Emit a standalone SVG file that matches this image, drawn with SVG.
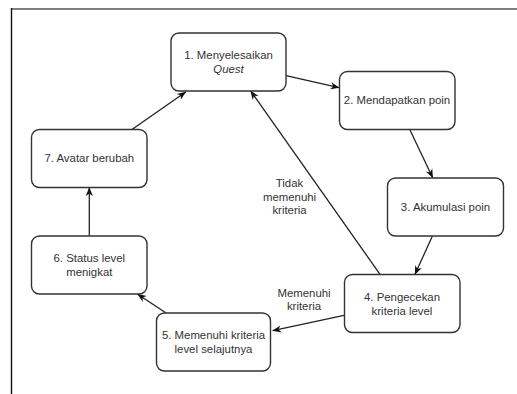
<svg xmlns="http://www.w3.org/2000/svg" width="517" height="394" viewBox="0 0 517 394">
<defs>
<style>
.box{fill:#ffffff;stroke:#333333;stroke-width:1.4}
.t{font-family:"Liberation Sans",Arial,Helvetica,sans-serif;font-size:11.4px;fill:#333333;text-anchor:middle}
.e{stroke:#222222;stroke-width:1.3;fill:none;marker-end:url(#arr)}
</style>
<marker id="arr" viewBox="0 0 10 10" refX="9.5" refY="5" markerWidth="9" markerHeight="9" markerUnits="userSpaceOnUse" orient="auto">
<path d="M0,1 L10,5 L0,9 L3,5 Z" fill="#111111"/>
</marker>
</defs>
<rect width="517" height="394" fill="#ffffff"/>
<line x1="11" y1="9" x2="517" y2="9" stroke="#808080" stroke-width="2"/>
<line x1="11.5" y1="8" x2="11.5" y2="394" stroke="#111111" stroke-width="1.4"/>
<g id="connectors">
<line class="e" x1="286" y1="75.7" x2="339" y2="87.7"/>
<line class="e" x1="410" y1="130" x2="432.7" y2="177.7"/>
<line class="e" x1="432.3" y1="236.3" x2="415" y2="274.3"/>
<line class="e" x1="380" y1="274.3" x2="250.7" y2="91"/>
<line class="e" x1="344" y1="315.3" x2="272.7" y2="330.7"/>
<line class="e" x1="165.7" y1="312.7" x2="137.7" y2="294.3"/>
<line class="e" x1="89.3" y1="235.7" x2="89.3" y2="187.6"/>
<line class="e" x1="132.3" y1="129.3" x2="185.7" y2="92"/>
<text class="t" x="289.5" y="187">Tidak</text>
<text class="t" x="289.5" y="200.5">memenuhi</text>
<text class="t" x="289.5" y="214">kriteria</text>
<text class="t" x="304" y="297">Memenuhi</text>
<text class="t" x="304" y="310">kriteria</text>
</g>
<g id="node1">
<rect class="box" x="171" y="33" width="115" height="58" rx="8"/>
<text class="t" x="228.5" y="59">1. Menyelesaikan</text>
<text class="t" x="228.5" y="73" font-style="italic">Quest</text>
</g>
<g id="node2">
<rect class="box" x="339.5" y="71.5" width="115.5" height="58" rx="8"/>
<text class="t" x="397" y="104">2. Mendapatkan poin</text>
</g>
<g id="node3">
<rect class="box" x="387.5" y="178" width="116" height="58" rx="8"/>
<text class="t" x="445.5" y="211">3. Akumulasi poin</text>
</g>
<g id="node4">
<rect class="box" x="344.5" y="274.5" width="115.5" height="58" rx="8"/>
<text class="t" x="402" y="301">4. Pengecekan</text>
<text class="t" x="402" y="314.5">kriteria level</text>
</g>
<g id="node5">
<rect class="box" x="156.5" y="313" width="114" height="58" rx="8"/>
<text class="t" x="213.5" y="339">5. Memenuhi kriteria</text>
<text class="t" x="213.5" y="353">level selajutnya</text>
</g>
<g id="node6">
<rect class="box" x="31.5" y="236" width="115.5" height="58" rx="8"/>
<text class="t" x="89.3" y="262">6. Status level</text>
<text class="t" x="89.3" y="276">menigkat</text>
</g>
<g id="node7">
<rect class="box" x="31.5" y="129.5" width="115.5" height="58" rx="8"/>
<text class="t" x="89.3" y="162">7. Avatar berubah</text>
</g>
</svg>
